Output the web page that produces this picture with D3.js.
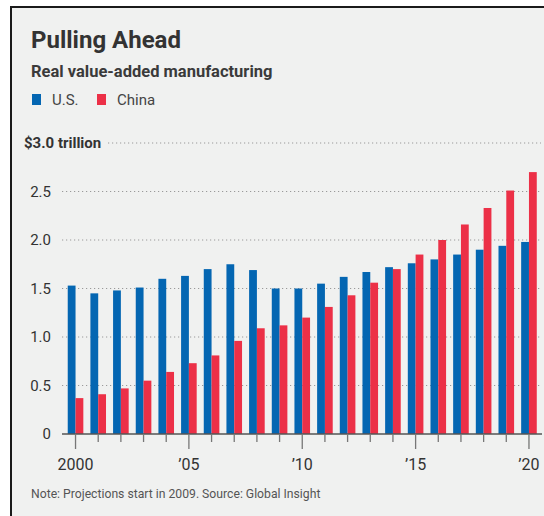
<!DOCTYPE html>
<html><head><meta charset="utf-8">
<script src="https://cdn.jsdelivr.net/npm/d3@7"></script>
<style>
html,body{margin:0;padding:0;background:#fff;}
svg{display:block;}
text{font-family:"Roboto","Liberation Sans",sans-serif;}
</style></head>
<body>
<script>
const years = d3.range(2000, 2021);
const usValues = [1.53,1.45,1.48,1.51,1.60,1.63,1.70,1.75,1.69,1.50,1.50,1.55,1.62,1.67,1.72,1.76,1.80,1.85,1.90,1.94,1.98];
const chinaValues = [0.37,0.41,0.47,0.55,0.64,0.73,0.81,0.96,1.09,1.12,1.20,1.31,1.43,1.56,1.70,1.85,2.00,2.16,2.33,2.51,2.70];
const yTicks = [0, 0.5, 1.0, 1.5, 2.0, 2.5, 3.0];
const yTickLabels = ["0","0.5","1.0","1.5","2.0","2.5","$3.0 trillion"];
const xLabelYears = [2000, 2005, 2010, 2015, 2020];
const xLabels = ["2000","\u201905","\u201910","\u201915","\u201920"];
const seriesNames = ["U.S.","China"];
const colors = ["#0466b2","#ec3047"];

const W = 544, H = 516;
const svg = d3.select("body").append("svg").attr("width", W).attr("height", H);

svg.append("rect").attr("x",11).attr("y",7).attr("width",560).attr("height",540)
  .attr("fill","#f0f1f0").attr("stroke","#1a1a1a").attr("stroke-width",2);

svg.append("text").attr("x",31).attr("y",48).text("Pulling Ahead")
  .attr("font-size",24).attr("font-weight","bold").attr("fill","#333");
svg.append("text").attr("x",31).attr("y",77).text("Real value-added manufacturing")
  .attr("font-size",16.5).attr("font-weight","bold").attr("fill","#3a3a3a");

// legend
const legX = [32, 97];
seriesNames.forEach((n,i)=>{
  svg.append("rect").attr("x",legX[i]).attr("y",94).attr("width",9).attr("height",11).attr("fill",colors[i]);
  svg.append("text").attr("x",legX[i]+20).attr("y",105).text(n).attr("font-size",15).attr("fill","#444");
});

const x = d3.scaleBand().domain(years).range([64.2, 540.3]);
const y = d3.scaleLinear().domain([0,3]).range([434,143]);

// gridlines
yTicks.forEach((t,i)=>{
  if (t===0) return;
  svg.append("line").attr("x1", i===6?108:62).attr("x2",541).attr("y1",y(t)).attr("y2",y(t))
    .attr("stroke","#9a9a9a").attr("stroke-width",1.2).attr("stroke-dasharray","1.2,2.8");
});
yTicks.forEach((t,i)=>{
  const last = i===6;
  svg.append("text").attr("x", last?24:51).attr("y", y(t)+5).text(yTickLabels[i])
    .attr("text-anchor", last?"start":"end").attr("font-size",15)
    .attr("font-weight", last?"bold":"normal").attr("fill","#333");
});

// bars
const bw = 7.8;
const g = svg.append("g");
g.selectAll("rect.us").data(usValues).join("rect")
  .attr("x",(d,i)=>x(years[i])+x.bandwidth()/2-bw).attr("width",bw)
  .attr("y",d=>y(d)).attr("height",d=>y(0)-y(d)).attr("fill",colors[0]);
g.selectAll("rect.cn").data(chinaValues).join("rect")
  .attr("x",(d,i)=>x(years[i])+x.bandwidth()/2).attr("width",bw)
  .attr("y",d=>y(d)).attr("height",d=>y(0)-y(d)).attr("fill",colors[1]);

// x axis
svg.append("line").attr("x1",62).attr("x2",542).attr("y1",y(0)).attr("y2",y(0))
  .attr("stroke","#555").attr("stroke-width",1.5);
years.forEach(yr=>{
  const cx = x(yr)+x.bandwidth()/2;
  const major = xLabelYears.includes(yr);
  svg.append("line").attr("x1",cx).attr("x2",cx).attr("y1",y(0)).attr("y2",y(0)+(major?15:8))
    .attr("stroke","#777").attr("stroke-width",1.3);
});
xLabelYears.forEach((yr,i)=>{
  const cx = x(yr)+x.bandwidth()/2;
  svg.append("text").attr("x",cx).attr("y",470).text(xLabels[i]).attr("text-anchor","middle")
    .attr("font-size",16).attr("fill","#333");
});

svg.append("text").attr("x",31).attr("y",498).text("Note: Projections start in 2009. Source: Global Insight")
  .attr("font-size",12.2).attr("fill","#555");
</script>
</body></html>
